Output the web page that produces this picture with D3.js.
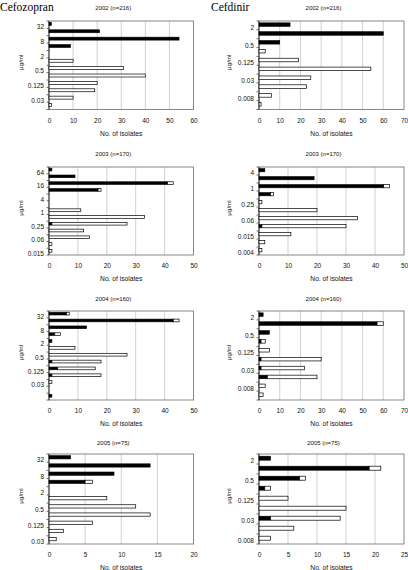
<!DOCTYPE html>
<html><head><meta charset="utf-8">
<script src="https://cdn.jsdelivr.net/npm/d3@7"></script>
<style>body{margin:0;background:#fff}svg{display:block}</style>
</head><body>
<script>
// ---------- DATA ----------
const drugNames = ["Cefozopran", "Cefdinir"];
const panelTitles = ["2002 (n=216)", "2003 (n=170)", "2004 (n=160)", "2005 (n=75)"];

const catsCfz2002 = ["32","16","8","4","2","1","0.5","0.25","0.125","0.06","0.03","0.015"];
const blackCfz2002 = [1,21,54,9,0,0,0,0,0,0,0,0];
const whiteCfz2002 = [0,0,0,0,0,10,31,40,20,19,10,1];
const labelsCfz2002 = ["32","8","2","0.5","0.125","0.03"];
const xTicksCfz2002 = [0,10,20,30,40,50,60];

const catsCfd2002 = ["2","1","0.5","0.25","0.125","0.06","0.03","0.015","0.008","0.004"];
const blackCfd2002 = [15,60,10,0,0,0,0,0,0,0];
const whiteCfd2002 = [0,0,0,3,19,54,25,23,6,1];
const labelsCfd2002 = ["2","0.5","0.125","0.03","0.008"];
const xTicksCfd2002 = [0,10,20,30,40,50,60,70];

const catsCfz2003 = ["64","32","16","8","4","2","1","0.5","0.25","0.125","0.06","0.03","0.015"];
const blackCfz2003 = [1,9,41,17,0,0,0,0,1,0,0,0,0];
const whiteCfz2003 = [0,0,2,1,0,0,11,33,26,12,14,1,1];
const labelsCfz2003 = ["64","16","4","1","0.25","0.06","0.015"];
const xTicksCfz2003 = [0,10,20,30,40,50];

const catsCfd2003 = ["4","2","1","0.5","0.25","0.125","0.06","0.03","0.015","0.008","0.004"];
const blackCfd2003 = [2,19,43,4,0,0,0,1,0,0,0];
const whiteCfd2003 = [0,0,2,1,1,20,34,29,11,2,1];
const labelsCfd2003 = ["4","1","0.25","0.06","0.015","0.004"];
const xTicksCfd2003 = [0,10,20,30,40,50];

const catsCfz2004 = ["32","16","8","4","2","1","0.5","0.25","0.125","0.06","0.03","0.015","0.008"];
const blackCfz2004 = [6,43,13,2,1,0,0,1,3,1,0,0,1];
const whiteCfz2004 = [1,2,0,2,0,9,27,17,13,17,1,0,0];
const labelsCfz2004 = ["32","8","2","0.5","0.125","0.03"];
const xTicksCfz2004 = [0,10,20,30,40,50];

const catsCfd2004 = ["2","1","0.5","0.25","0.125","0.06","0.03","0.015","0.008","0.004"];
const blackCfd2004 = [2,57,5,1,0,1,1,4,0,0];
const whiteCfd2004 = [0,3,0,2,5,29,21,24,3,2];
const labelsCfd2004 = ["2","0.5","0.125","0.03","0.008"];
const xTicksCfd2004 = [0,10,20,30,40,50,60,70];

const catsCfz2005 = ["32","16","8","4","2","1","0.5","0.25","0.125","0.06","0.03"];
const blackCfz2005 = [3,14,9,5,0,0,0,0,0,0,0];
const whiteCfz2005 = [0,0,0,1,0,8,12,14,6,2,1];
const labelsCfz2005 = ["32","8","2","0.5","0.125","0.03"];
const xTicksCfz2005 = [0,5,10,15,20];

const catsCfd2005 = ["2","1","0.5","0.25","0.125","0.06","0.03","0.015","0.008"];
const blackCfd2005 = [2,19,7,1,0,0,2,0,0];
const whiteCfd2005 = [0,2,1,1,5,15,12,6,2];
const labelsCfd2005 = ["2","0.5","0.125","0.03","0.008"];
const xTicksCfd2005 = [0,5,10,15,20,25];

const xAxisTitle = "No. of isolates";
const yAxisTitle = "\u03bcg/ml";

// ---------- LAYOUT ----------
const panels = [
  {row:0,col:0,cats:catsCfz2002,black:blackCfz2002,white:whiteCfz2002,labels:labelsCfz2002,xt:xTicksCfz2002},
  {row:0,col:1,cats:catsCfd2002,black:blackCfd2002,white:whiteCfd2002,labels:labelsCfd2002,xt:xTicksCfd2002},
  {row:1,col:0,cats:catsCfz2003,black:blackCfz2003,white:whiteCfz2003,labels:labelsCfz2003,xt:xTicksCfz2003},
  {row:1,col:1,cats:catsCfd2003,black:blackCfd2003,white:whiteCfd2003,labels:labelsCfd2003,xt:xTicksCfd2003},
  {row:2,col:0,cats:catsCfz2004,black:blackCfz2004,white:whiteCfz2004,labels:labelsCfz2004,xt:xTicksCfz2004},
  {row:2,col:1,cats:catsCfd2004,black:blackCfd2004,white:whiteCfd2004,labels:labelsCfd2004,xt:xTicksCfd2004},
  {row:3,col:0,cats:catsCfz2005,black:blackCfz2005,white:whiteCfz2005,labels:labelsCfz2005,xt:xTicksCfz2005},
  {row:3,col:1,cats:catsCfd2005,black:blackCfd2005,white:whiteCfd2005,labels:labelsCfd2005,xt:xTicksCfd2005}
];
const colX0 = [49, 259], colX1 = [193.5, 404];
const rowY0 = [21, 167, 311, 454], rowY1 = [109.5, 255, 400, 544];
const titleBase = [10.3, 156.3, 301.3, 444.5];
const yTitleX = [21, 229];
const sans = "'Liberation Sans', Arial, Helvetica, sans-serif";

const svg = d3.select("body").append("svg").attr("width", 408).attr("height", 570)
  .style("font-family", sans);

// drug names
svg.append("text").attr("x", 0).attr("y", 11).text(drugNames[0])
  .style("font-family", "'Liberation Serif', 'Times New Roman', serif").style("font-size", "11.5px");
svg.append("text").attr("x", 211).attr("y", 11).text(drugNames[1])
  .style("font-family", "'Liberation Serif', 'Times New Roman', serif").style("font-size", "11.5px");

panels.forEach(p => {
  const x0 = colX0[p.col], x1 = colX1[p.col], y0 = rowY0[p.row], y1 = rowY1[p.row];
  const x = d3.scaleLinear().domain([0, d3.max(p.xt)]).range([x0, x1]);
  const y = d3.scaleBand().domain(p.cats).range([y0, y1]);
  const g = svg.append("g");

  // gridlines
  g.selectAll("line.grid").data(p.xt.slice(1, -1)).join("line")
    .attr("x1", d => x(d)).attr("x2", d => x(d)).attr("y1", y0).attr("y2", y1)
    .attr("stroke", "#c4c4c4").attr("stroke-width", 0.8);

  // frame
  g.append("rect").attr("x", x0).attr("y", y0).attr("width", x1 - x0).attr("height", y1 - y0)
    .attr("fill", "none").attr("stroke", "#7a7a7a").attr("stroke-width", 0.9);
  g.append("line").attr("x1", x0).attr("x2", x0).attr("y1", y0).attr("y2", y1)
    .attr("stroke", "#333").attr("stroke-width", 0.9);

  // y ticks at band boundaries
  const bounds = p.cats.map(c => y(c)).concat([y1]);
  g.selectAll("line.yt").data(bounds).join("line")
    .attr("x1", x0 - 2.5).attr("x2", x0).attr("y1", d => d).attr("y2", d => d)
    .attr("stroke", "#333").attr("stroke-width", 0.7);

  // bars
  const bh = Math.max(2.6, y.bandwidth() * 0.4);
  const rows = p.cats.map((c, i) => ({c, b: p.black[i], w: p.white[i]}));
  g.selectAll("rect.blk").data(rows.filter(d => d.b > 0)).join("rect")
    .attr("x", x(0)).attr("y", d => y(d.c) + y.bandwidth() / 2 - 0.8 - bh / 2)
    .attr("width", d => x(d.b) - x(0)).attr("height", bh)
    .attr("fill", "#000").attr("stroke", "#000").attr("stroke-width", 0.6);
  g.selectAll("rect.wht").data(rows.filter(d => d.w > 0)).join("rect")
    .attr("x", d => x(d.b)).attr("y", d => y(d.c) + y.bandwidth() / 2 - 0.8 - bh / 2)
    .attr("width", d => x(d.b + d.w) - x(d.b)).attr("height", bh)
    .attr("fill", "#fff").attr("stroke", "#000").attr("stroke-width", 0.7);

  // y axis labels
  const ya = g.append("g").attr("transform", `translate(${x0},2.3)`)
    .call(d3.axisLeft(y).tickValues(p.labels).tickSize(0).tickPadding(5));
  ya.select(".domain").remove();
  ya.selectAll("text").style("font-size", "6.5px").style("font-family", sans).attr("fill", "#111");

  // x axis labels
  const xa = g.append("g").attr("transform", `translate(0,${y1})`)
    .call(d3.axisBottom(x).tickValues(p.xt).tickSize(0).tickPadding(8.7).tickFormat(d3.format("d")));
  xa.select(".domain").remove();
  xa.selectAll("text").style("font-size", "6.5px").style("font-family", sans).attr("fill", "#111");

  // titles
  g.append("text").attr("x", (x0 + x1) / 2 - 8).attr("y", titleBase[p.row])
    .attr("text-anchor", "middle").style("font-size", "6px").attr("fill", "#111")
    .text(panelTitles[p.row]);
  g.append("text").attr("x", (x0 + x1) / 2).attr("y", y1 + 26)
    .attr("text-anchor", "middle").style("font-size", "6.7px").attr("fill", "#111")
    .text(xAxisTitle);
  g.append("text").attr("transform", `translate(${yTitleX[p.col]},${(y0 + y1) / 2 - 3}) rotate(-90)`)
    .attr("text-anchor", "middle").attr("dy", "0.35em").style("font-size", "6.2px").attr("fill", "#111")
    .text(yAxisTitle);
});
</script>
</body></html>
